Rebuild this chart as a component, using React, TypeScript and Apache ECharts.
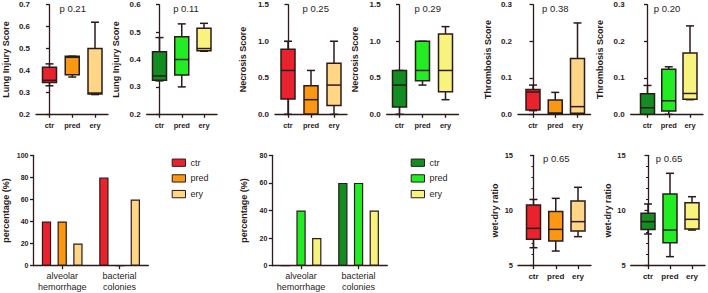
import React, { useEffect, useRef } from 'react';
import * as echarts from 'echarts';

const FONT = "'Liberation Sans', Arial, Helvetica, sans-serif";
const INK = '#2b1a1a';

// ---------- data ----------
const boxCategories = ['ctr', 'pred', 'ery'];
const redColors = ['#e8232d', '#fb9813', '#fed685'];
const greenColors = ['#138c21', '#24ec24', '#f8f37d'];

// [min, Q1, median, Q3, max]
const lungRed = [[0.33, 0.345, 0.355, 0.415, 0.43], [0.37, 0.38, 0.46, 0.465, 0.465], [0.29, 0.293, 0.297, 0.5, 0.62]];
const lungGreen = [[0.322, 0.324, 0.34, 0.428, 0.48], [0.3, 0.343, 0.4, 0.483, 0.53], [0.43, 0.432, 0.44, 0.514, 0.532]];
const necRed = [[0, 0.21, 0.6, 0.89, 1.0], [0, 0.005, 0.2, 0.39, 0.6], [0, 0.12, 0.4, 0.7, 1.0]];
const necGreen = [[0, 0.1, 0.4, 0.6, 0.6], [0.4, 0.46, 0.6, 1.0, 1.0], [0.2, 0.31, 0.6, 1.1, 1.2]];
const thrRed = [[0.01, 0.012, 0.061, 0.068, 0.08], [0, 0.003, 0.003, 0.039, 0.06], [0, 0.003, 0.021, 0.153, 0.25]];
const thrGreen = [[0, 0, 0.018, 0.056, 0.079], [0, 0.009, 0.037, 0.123, 0.13], [0.04, 0.041, 0.057, 0.168, 0.242]];
const wdRed = [[6.63, 7.39, 8.38, 10.5, 11.0], [6.33, 7.24, 8.29, 9.9, 11.1], [7.63, 8.14, 8.99, 10.86, 12.1]];
const wdGreen = [[7.87, 8.29, 8.99, 9.74, 10.59], [5.82, 7.08, 8.23, 11.5, 13.37], [8.23, 8.32, 9.2, 10.71, 11.25]];

const pLabels = ['p 0.21', 'p 0.11', 'p 0.25', 'p 0.29', 'p 0.38', 'p 0.20', 'p 0.65', 'p 0.65'];

const barCategories = ['alveolar\nhemorrhage', 'bacterial\ncolonies'];
const barSeriesNames = ['ctr', 'pred', 'ery'];
const barRed = [[40, 80], [40, 0], [20, 60]];
const barGreen = [[0, 60], [40, 60], [20, 40]];

// ---------- layout ----------
type BoxPanel = {
  data: number[][]; colors: string[]; yMin: number; yMax: number; yInterval: number; decimals: number;
  yName: string; p: string; yLeft: number; c0: number; step: number; top: number; height: number;
  nameGap: number; tickFont: number; catFont: number; minor: boolean; pX: number; pY: number;
};

const TOP = { top: 4.7, height: 109.6 };
const BOT = { top: 155.3, height: 110.4 };

const boxPanels: BoxPanel[] = [
  { data: lungRed, colors: redColors, yMin: 0.2, yMax: 0.7, yInterval: 0.1, decimals: 1, yName: 'Lung Injury Score', p: pLabels[0], yLeft: 36, c0: 49.5, step: 22.75, ...TOP, nameGap: 25.5, tickFont: 8, catFont: 7.5, minor: false, pX: 72.7, pY: 8.3 },
  { data: lungGreen, colors: greenColors, yMin: 0.2, yMax: 0.6, yInterval: 0.1, decimals: 1, yName: 'Lung Injury Score', p: pLabels[1], yLeft: 146.7, c0: 159.5, step: 22.25, ...TOP, nameGap: 26, tickFont: 8, catFont: 7.5, minor: false, pX: 186, pY: 8.3 },
  { data: necRed, colors: redColors, yMin: 0, yMax: 1.5, yInterval: 0.5, decimals: 1, yName: 'Necrosis Score', p: pLabels[2], yLeft: 275, c0: 288, step: 23, ...TOP, nameGap: 27.5, tickFont: 8, catFont: 7.5, minor: false, pX: 315.7, pY: 8.3 },
  { data: necGreen, colors: greenColors, yMin: 0, yMax: 1.5, yInterval: 0.5, decimals: 1, yName: 'Necrosis Score', p: pLabels[3], yLeft: 386.7, c0: 399.5, step: 23, ...TOP, nameGap: 27.5, tickFont: 8, catFont: 7.5, minor: false, pX: 427.7, pY: 8.3 },
  { data: thrRed, colors: redColors, yMin: 0, yMax: 0.3, yInterval: 0.1, decimals: 1, yName: 'Thrombosis Score', p: pLabels[4], yLeft: 518, c0: 533, step: 22.25, ...TOP, nameGap: 26, tickFont: 8, catFont: 7.5, minor: false, pX: 555.3, pY: 8.3 },
  { data: thrGreen, colors: greenColors, yMin: 0, yMax: 0.3, yInterval: 0.1, decimals: 1, yName: 'Thrombosis Score', p: pLabels[5], yLeft: 630.7, c0: 647.5, step: 21.25, ...TOP, nameGap: 26, tickFont: 8, catFont: 7.5, minor: false, pX: 667, pY: 8.3 },
  { data: wdRed, colors: redColors, yMin: 5, yMax: 15, yInterval: 5, decimals: 0, yName: 'wet-dry ratio', p: pLabels[6], yLeft: 518, c0: 533.5, step: 22.25, ...BOT, nameGap: 18.5, tickFont: 7.5, catFont: 8, minor: true, pX: 556.3, pY: 158.3 },
  { data: wdGreen, colors: greenColors, yMin: 5, yMax: 15, yInterval: 5, decimals: 0, yName: 'wet-dry ratio', p: pLabels[7], yLeft: 630.7, c0: 648, step: 22, ...BOT, nameGap: 18.5, tickFont: 7.5, catFont: 8, minor: true, pX: 669, pY: 158.3 },
];

type BarPanel = { values: number[][]; colors: string[]; yMax: number; left: number; width: number; legendLeft: number };
const barPanels: BarPanel[] = [
  { values: barRed, colors: redColors, yMax: 100, left: 32.3, width: 116, legendLeft: 171.7 },
  { values: barGreen, colors: greenColors, yMax: 80, left: 272.3, width: 115, legendLeft: 410.7 },
];

const axisLine = { show: true, lineStyle: { color: INK, width: 1.3 } };
const axisTick = { show: true, inside: false, length: 3.5, lineStyle: { color: INK, width: 1.3 } };

function buildOption() {
  const grid: any[] = [];
  const xAxis: any[] = [];
  const yAxis: any[] = [];
  const series: any[] = [];
  const graphic: any[] = [];
  const legend: any[] = [];

  boxPanels.forEach((bp, gi) => {
    const xMin = -(bp.c0 - bp.yLeft) / bp.step;
    const end = bp.c0 + 2 * bp.step + 13;
    const width = end - bp.yLeft;
    const xMax = xMin + width / bp.step;
    grid.push({ left: bp.yLeft, top: bp.top, width, height: bp.height, containLabel: false });
    xAxis.push({
      type: 'value', gridIndex: gi, min: xMin, max: xMax,
      axisLine, splitLine: { show: false },
      axisTick: { ...axisTick, customValues: [0, 1, 2] },
      axisLabel: {
        customValues: [0, 1, 2], formatter: (v: number) => boxCategories[Math.round(v)],
        color: INK, fontFamily: FONT, fontWeight: 'bold', fontSize: bp.catFont, margin: 7,
      },
    });
    yAxis.push({
      type: 'value', gridIndex: gi, min: bp.yMin, max: bp.yMax, interval: bp.yInterval,
      axisLine, axisTick, splitLine: { show: false },
      minorTick: { show: bp.minor, splitNumber: 5, length: 2, lineStyle: { color: INK, width: 1 } },
      axisLabel: {
        formatter: (v: number) => v.toFixed(bp.decimals), color: INK, fontFamily: FONT,
        fontWeight: 'bold', fontSize: bp.tickFont, margin: bp.minor ? 5 : 6,
      },
      name: bp.yName, nameLocation: 'middle', nameGap: bp.nameGap,
      nameTextStyle: { color: INK, fontFamily: FONT, fontWeight: 'bold', fontSize: 9 },
    });
    const colors = bp.colors;
    series.push({
      type: 'custom', xAxisIndex: gi, yAxisIndex: gi, clip: false,
      data: bp.data.map((d, i) => [i, ...d]),
      dimensions: ['x', 'min', 'q1', 'med', 'q3', 'max'],
      encode: { x: 0, y: [1, 2, 3, 4, 5] },
      renderItem: (params: any, api: any) => {
        const i = api.value(0);
        const pts = [1, 2, 3, 4, 5].map((k) => api.coord([i, api.value(k)]));
        const cx = pts[0][0];
        const [yMin, yQ1, yMed, yQ3, yMax] = pts.map((p: number[]) => p[1]);
        const hw = 7;
        const cw = 4;
        const ls = { stroke: INK, lineWidth: 1.5 };
        return {
          type: 'group',
          children: [
            { type: 'line', shape: { x1: cx, y1: yMax, x2: cx, y2: yQ3 }, style: ls },
            { type: 'line', shape: { x1: cx, y1: yQ1, x2: cx, y2: yMin }, style: ls },
            { type: 'line', shape: { x1: cx - cw, y1: yMax, x2: cx + cw, y2: yMax }, style: ls },
            { type: 'line', shape: { x1: cx - cw, y1: yMin, x2: cx + cw, y2: yMin }, style: ls },
            { type: 'rect', shape: { x: cx - hw, y: yQ3, width: 2 * hw, height: yQ1 - yQ3 }, style: { fill: colors[params.dataIndex], stroke: INK, lineWidth: 1.5 } },
            { type: 'line', shape: { x1: cx - hw, y1: yMed, x2: cx + hw, y2: yMed }, style: ls },
          ],
        };
      },
    });
    graphic.push({
      type: 'text', x: bp.pX, y: bp.pY,
      style: { text: bp.p, fill: INK, font: `9.5px ${FONT}`, align: 'center', verticalAlign: 'middle' },
    });
  });

  barPanels.forEach((bp, bi) => {
    const gi = boxPanels.length + bi;
    grid.push({ left: bp.left, top: BOT.top, width: bp.width, height: BOT.height, containLabel: false });
    xAxis.push({
      type: 'category', gridIndex: gi, data: barCategories,
      axisLine, axisTick: { ...axisTick, alignWithLabel: true },
      axisLabel: { color: INK, fontFamily: FONT, fontSize: 9, lineHeight: 10.7, margin: 5, interval: 0 },
    });
    yAxis.push({
      type: 'value', gridIndex: gi, min: 0, max: bp.yMax, interval: 20,
      axisLine, axisTick, splitLine: { show: false },
      axisLabel: { color: INK, fontFamily: FONT, fontWeight: 'bold', fontSize: 7, margin: 5 },
      name: 'percentage (%)', nameLocation: 'middle', nameGap: 23.5,
      nameTextStyle: { color: INK, fontFamily: FONT, fontWeight: 'bold', fontSize: 9 },
    });
    barSeriesNames.forEach((name, si) => {
      series.push({
        type: 'bar', name, xAxisIndex: gi, yAxisIndex: gi, data: bp.values[si],
        barWidth: 9.3, barGap: '69%',
        itemStyle: { color: bp.colors[si], borderColor: INK, borderWidth: 1.2 },
      });
    });
    legend.push({
      left: bp.legendLeft, top: 158.2, orient: 'vertical', icon: 'rect',
      itemWidth: 13.3, itemHeight: 7.3, itemGap: 6.7, selectedMode: false,
      textStyle: { color: INK, fontFamily: FONT, fontSize: 9, padding: [0, 0, 0, 0] },
      padding: 0,
      data: barSeriesNames.map((name, si) => ({
        name, itemStyle: { color: bp.colors[si], borderColor: INK, borderWidth: 1 },
      })),
    });
  });

  return {
    animation: false,
    backgroundColor: '#ffffff',
    textStyle: { fontFamily: FONT },
    grid, xAxis, yAxis, series, graphic, legend,
  };
}

export default function App() {
  const ref = useRef<HTMLDivElement>(null);
  useEffect(() => {
    if (!ref.current) return;
    const chart = echarts.init(ref.current, undefined, { renderer: 'svg' });
    chart.setOption(buildOption() as any);
    return () => chart.dispose();
  }, []);
  return <div ref={ref} style={{ position: 'absolute', left: 0, top: 0, width: 708, height: 293 }} />;
}
